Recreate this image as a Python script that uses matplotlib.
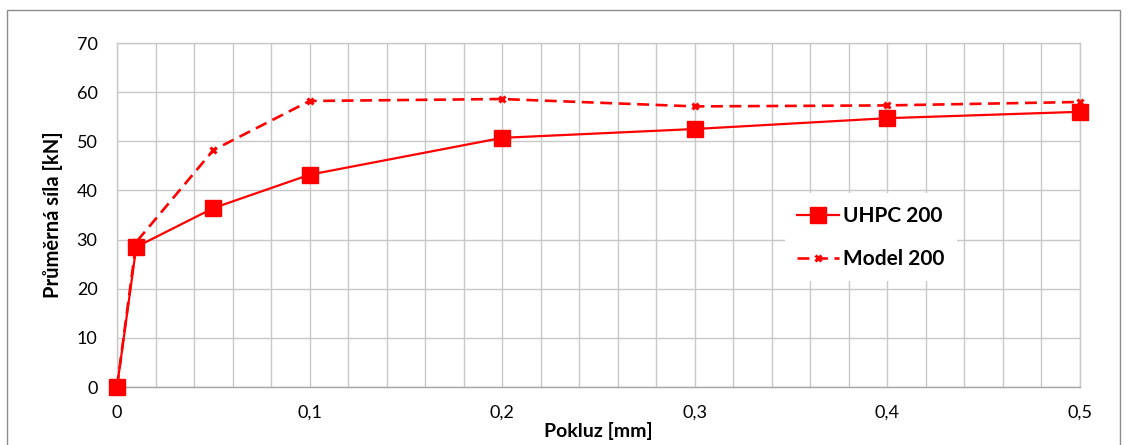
import matplotlib
matplotlib.use("Agg")
import matplotlib.pyplot as plt
from matplotlib.patches import Rectangle
from matplotlib.ticker import MultipleLocator, FuncFormatter

plt.rcParams['font.family'] = ['Lato', 'DejaVu Sans']

# Slip [mm] and mean force [kN]
slip = [0.0, 0.01, 0.05, 0.1, 0.2, 0.3, 0.4, 0.5]
uhpc_200 = [0.0, 28.5, 36.4, 43.2, 50.7, 52.5, 54.7, 56.0]
model_200 = [0.0, 29.5, 48.2, 58.2, 58.6, 57.1, 57.3, 58.0]

series_labels = ["UHPC 200", "Model 200"]
x_label = "Pokluz [mm]"
y_label = "Průměrná síla [kN]"

fig = plt.figure(figsize=(11.28, 4.45), dpi=100)
ax = fig.add_axes([117/1128, 58/445, 963/1128, 344/445])

# outer chart frame
fig.patches.append(Rectangle((7/1128, -0.05), 1113/1128, 1.05 - 10/445,
                             transform=fig.transFigure, fill=False,
                             edgecolor='#8c8c8c', linewidth=1.0))

red = '#ff0000'
ax.plot(slip, uhpc_200, color=red, linewidth=1.6, marker='s', markersize=12,
        label=series_labels[0], zorder=4, clip_on=False)
ax.plot(slip, model_200, color=red, linewidth=1.9, linestyle=(0, (4.5, 2.5)),
        marker='x', markersize=5, markeredgewidth=2.2, label=series_labels[1],
        zorder=3, clip_on=False)

ax.set_xlim(0, 0.5)
ax.set_ylim(0, 70)
ax.xaxis.set_major_locator(MultipleLocator(0.1))
ax.xaxis.set_minor_locator(MultipleLocator(0.02))
ax.yaxis.set_major_locator(MultipleLocator(10))

ax.xaxis.set_major_formatter(FuncFormatter(lambda v, p: ('%g' % round(v, 2)).replace('.', ',')))
ax.grid(which='both', axis='x', color='#c8c8c8', linewidth=1.0)
ax.grid(which='major', axis='y', color='#c8c8c8', linewidth=1.0)
ax.set_axisbelow(True)

for s in ax.spines.values():
    s.set_color('#c8c8c8')
    s.set_linewidth(1.0)
ax.spines['bottom'].set_color('#a6a6a6')

ax.tick_params(which='both', length=0, labelsize=13, colors='#000000')
ax.tick_params(axis='x', pad=13)
ax.tick_params(axis='y', pad=14)

ax.set_xlabel(x_label, fontsize=14, fontweight='bold', labelpad=1)
ax.set_ylabel(y_label, fontsize=14.5, fontweight='bold', labelpad=10)

leg = ax.legend(loc='center', bbox_to_anchor=(0.783, 0.435), frameon=True,
                fancybox=False, framealpha=1, edgecolor='white',
                prop={'weight': 'bold', 'size': 15}, handlelength=2.0,
                handletextpad=0.2, labelspacing=1.1, borderpad=0.6)
leg.get_frame().set_linewidth(0)

fig.savefig("out.png", dpi=100)
